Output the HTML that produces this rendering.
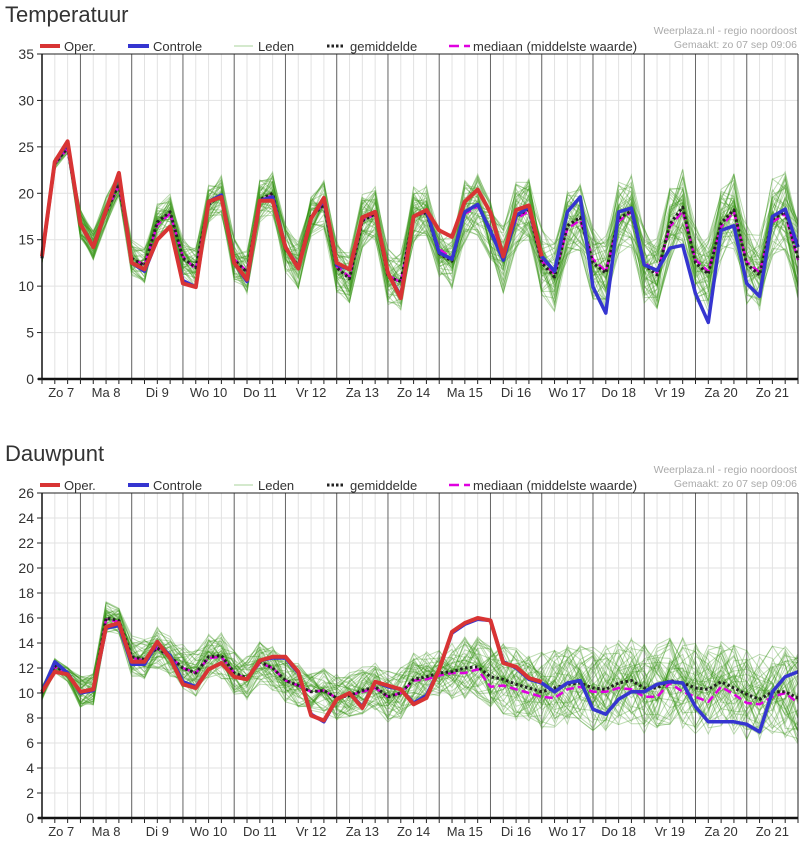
<!DOCTYPE html>
<html><head><meta charset="utf-8"><style>
body{margin:0;background:#fff;}
svg{display:block;font-family:"Liberation Sans",sans-serif;}
</style></head><body>
<svg id="root" width="808" height="848" viewBox="0 0 808 848" xmlns="http://www.w3.org/2000/svg"></svg>
<script>
const dayLabels = ["Zo 7","Ma 8","Di 9","Wo 10","Do 11","Vr 12","Za 13","Zo 14","Ma 15","Di 16","Wo 17","Do 18","Vr 19","Za 20","Zo 21"];
const tempTicks = [0,5,10,15,20,25,30,35];
const dewTicks = [0,2,4,6,8,10,12,14,16,18,20,22,24,26];

const tempOper = [13.2,23.4,25.6,16.7,14.2,18.2,22.2,12.5,11.8,15.0,16.4,10.3,9.9,19.1,19.6,12.5,10.7,19.2,19.2,14.2,11.9,17.3,19.5,12.5,11.8,17.4,18.0,11.4,8.7,17.5,18.2,16.0,15.3,19.1,20.4,17.9,13.2,18.2,18.7,13.2];
const tempCtrl = [13.2,23.4,25.4,16.7,14.2,18.2,22.0,12.5,11.6,15.0,16.4,10.6,9.9,19.1,19.8,12.5,10.5,19.2,19.6,14.2,11.9,17.3,19.3,12.3,11.8,17.4,18.0,11.4,8.9,17.5,18.2,13.6,12.9,18.0,18.8,15.9,12.8,17.6,18.5,13.2,11.6,18.0,19.6,9.9,7.1,18.0,18.4,12.3,11.7,14.1,14.4,9.2,6.1,16.0,16.5,10.3,8.9,17.5,18.3,14.2];
const tempMean = [13.0,23.2,24.9,16.7,14.4,18.0,21.0,13.0,12.2,16.9,18.0,13.0,12.0,18.8,19.8,12.8,11.5,19.3,20.0,14.0,12.2,17.5,18.8,12.0,10.8,17.0,17.8,11.0,10.5,17.6,17.9,13.5,12.7,18.0,18.8,16.0,12.8,17.5,18.3,12.5,11.0,16.5,17.4,12.5,11.4,17.3,18.1,12.3,11.2,16.7,18.5,12.5,11.3,16.8,18.2,12.4,11.2,17.2,18.0,13.0];
const tempMedian = [13.0,23.2,24.8,16.6,14.4,18.0,20.8,13.0,12.3,16.6,17.8,13.2,11.8,18.8,19.8,12.9,11.6,19.2,19.8,14.1,12.3,17.4,18.9,12.1,11.0,17.1,17.7,11.2,10.4,17.5,18.0,14.0,13.0,17.8,18.6,16.2,13.0,17.2,18.1,12.7,11.3,16.2,17.1,12.9,11.6,17.0,18.0,12.6,11.4,16.4,18.1,12.8,11.6,16.4,18.0,12.6,11.5,16.9,17.8,12.8];
const tempSpread = [0.6,1.6,2.0,2.2,2.4,2.6,2.9,3.1,3.4,3.7,3.8,4.0,4.2,4.2,4.4];

const dewOper = [10.1,11.7,11.5,10.1,10.3,15.3,15.6,12.5,12.5,14.1,12.8,10.7,10.4,11.9,12.4,11.3,11.1,12.6,12.9,12.9,11.7,8.2,7.8,9.5,10.0,8.8,10.9,10.6,10.3,9.1,9.6,11.9,14.9,15.6,16.0,15.8,12.4,12.1,11.2,10.9];
const dewCtrl = [10.1,12.5,11.6,10.0,10.2,15.2,15.4,12.3,12.3,14.0,13.0,10.9,10.5,11.9,12.4,11.3,11.1,12.6,12.8,12.8,11.6,8.3,7.7,9.5,10.0,8.9,10.9,10.5,10.3,9.2,9.8,11.9,14.8,15.5,15.9,15.8,12.5,12.0,11.1,10.8,10.1,10.8,11.0,8.7,8.3,9.5,10.1,10.1,10.7,10.9,10.8,8.9,7.7,7.7,7.7,7.5,6.9,10.1,11.3,11.7];
const dewMean = [10.0,12.2,11.5,10.1,10.3,16.0,15.8,12.9,12.7,13.6,12.9,12.0,11.6,12.9,13.0,11.6,11.2,12.5,12.0,11.0,10.6,10.1,10.2,9.6,9.8,10.2,10.5,9.7,10.0,11.1,11.3,11.6,11.7,12.0,12.1,11.3,11.1,10.7,10.4,10.1,10.4,10.7,10.8,10.4,10.3,10.8,11.0,10.4,10.4,11.0,10.8,10.4,10.3,10.9,10.4,9.9,9.5,10.1,10.1,9.6];
const dewMedian = [10.0,12.1,11.5,10.1,10.3,15.9,15.7,12.8,12.6,13.6,12.9,12.0,11.6,12.8,12.9,11.6,11.1,12.4,12.0,11.0,10.6,10.1,10.2,9.6,9.8,10.1,10.4,9.7,10.0,11.0,11.1,11.4,11.6,11.6,11.9,10.5,10.6,10.3,10.0,9.7,9.6,10.3,10.5,10.1,10.1,10.4,10.3,9.7,9.7,10.8,10.1,9.7,9.3,10.5,9.9,9.2,9.1,9.7,10.0,9.2];
const dewSpread = [0.6,1.3,1.7,1.9,1.8,1.8,1.9,2.1,2.5,2.9,3.2,3.5,3.7,3.7,3.7];

const memberCount = 50;
const NS = "http://www.w3.org/2000/svg";
const root = document.getElementById('root');
function mk(tag, attrs, parent){
  const e = document.createElementNS(NS, tag);
  for (const k in attrs) e.setAttribute(k, attrs[k]);
  (parent||root).appendChild(e);
  return e;
}

function drawChart(cfg){
  const g = mk('g', {});
  
  
  const x0 = 42, x1 = 798, y0 = cfg.top, y1 = cfg.top + 325;
  const n = 60, step = (x1 - x0) / (n - 1);
  const xs = i => x0 + i * step;
  const ymax = cfg.ticks[cfg.ticks.length - 1];
  const ys = v => y1 - (v / ymax) * (y1 - y0);

  const title = mk('text', {x:5, y:cfg.top - 32, 'font-size':22, fill:'#333'}, g);
  title.textContent = cfg.title;
  
  

  const grid = mk('g', {}, g);
  
  
  for (let i = 0; i < n; i++) {
    mk('line', {x1:xs(i), x2:xs(i), y1:y0, y2:y1, stroke:'#e2e2e2', 'stroke-width':1}, grid);
  }
  cfg.ticks.forEach(t => {
    mk('line', {x1:x0, x2:x1, y1:ys(t), y2:ys(t), stroke:'#e2e2e2', 'stroke-width':1}, grid);
  });
  for (let i = 3; i < n; i += 4) {
    mk('line', {x1:xs(i), x2:xs(i), y1:y0, y2:y1, stroke:'#666', 'stroke-width':1}, grid);
  }

  const mg = mk('g', {}, g);
  
  
  for (let k = 0; k < memberCount; k++) {
    let d = '';
    for (let i = 0; i < n; i++) {
      const sp = cfg.spread[Math.min(14, Math.floor((i + 1) / 4))];
      const z = 0.55 * Math.sin(k * 2.31 + i * (0.7 + (k % 7) * 0.23)) + 0.45 * Math.cos(k * 1.13 + i * 0.37 + (k % 3));
      const v = cfg.mean[i] + sp * z * cfg.memberScale;
      d += (i ? 'L' : 'M') + xs(i).toFixed(1) + ',' + ys(v).toFixed(1);
    }
    const p = mk('path', {d:d, fill:'none', stroke:'rgba(55,150,20,0.33)', 'stroke-width':1}, mg);
    
    
  }

  function line(arr, attrs, nm){
    let d = '';
    arr.forEach((v, i) => { d += (i ? 'L' : 'M') + xs(i).toFixed(1) + ',' + ys(v).toFixed(1); });
    const p = mk('path', Object.assign({d:d, fill:'none', 'stroke-linejoin':'round'}, attrs), g);
    
    
  }
  line(cfg.median, {stroke:'#e000e0', 'stroke-width':2.5, 'stroke-dasharray':'8,4'}, cfg.name + '-median-line');
  line(cfg.mean, {stroke:'#222', 'stroke-width':3, 'stroke-dasharray':'2.5,2.5'}, cfg.name + '-mean-line');
  line(cfg.ctrl, {stroke:'#3535d0', 'stroke-width':3.5}, cfg.name + '-control-line');
  line(cfg.oper, {stroke:'#d83434', 'stroke-width':4}, cfg.name + '-operational-line');

  mk('line', {x1:x0, x2:x1, y1:y0, y2:y0, stroke:'#222', 'stroke-width':1}, g);
  mk('line', {x1:x1, x2:x1, y1:y0, y2:y1, stroke:'#222', 'stroke-width':1}, g);
  const yax = mk('line', {x1:x0, x2:x0, y1:y0, y2:y1, stroke:'#111', 'stroke-width':1.5}, g);
  
  
  const xax = mk('line', {x1:x0 - 4, x2:x1, y1:y1, y2:y1, stroke:'#111', 'stroke-width':2.5}, g);
  
  
  for (let i = 0; i < n; i++) mk('line', {x1:xs(i), x2:xs(i), y1:y1, y2:y1 + 5, stroke:'#222', 'stroke-width':1}, g);

  cfg.ticks.forEach(t => {
    mk('line', {x1:x0 - 5, x2:x0, y1:ys(t), y2:ys(t), stroke:'#222', 'stroke-width':1}, g);
    const tx = mk('text', {x:34, y:ys(t) + 5, 'font-size':14, fill:'#333', 'text-anchor':'end'}, g);
    tx.textContent = t;
    
    
  });
  dayLabels.forEach((lab, d) => {
    const a = d === 0 ? x0 : xs(4 * d - 1), b = xs(Math.min(59, 4 * d + 3));
    const tx = mk('text', {x:(a + b) / 2, y:y1 + 18, 'font-size':13, fill:'#333', 'text-anchor':'middle'}, g);
    tx.textContent = lab;
    
    
  });

  const lg = mk('g', {}, g);
  
  
  const ly = y0 - 8;
  const items = [
    {x:40, w:20, st:{stroke:'#d83434','stroke-width':4}, t:'Oper.', tx:64},
    {x:128, w:21, st:{stroke:'#3535d0','stroke-width':4}, t:'Controle', tx:153},
    {x:234, w:19, st:{stroke:'rgba(60,155,25,0.35)','stroke-width':1.2}, t:'Leden', tx:258},
    {x:327, w:16, st:{stroke:'#222','stroke-width':3,'stroke-dasharray':'2.5,2'}, t:'gemiddelde', tx:350},
    {x:449, w:21, st:{stroke:'#e000e0','stroke-width':2.5,'stroke-dasharray':'10,5'}, t:'mediaan (middelste waarde)', tx:473}
  ];
  items.forEach(it => {
    const e = mk('g', {}, lg);
    
    
    mk('line', Object.assign({x1:it.x, x2:it.x + it.w, y1:ly, y2:ly}, it.st), e);
    const t = mk('text', {x:it.tx, y:ly + 5, 'font-size':13, fill:'#333'}, e);
    t.textContent = it.t;
  });
  const s1 = mk('text', {x:797, y:y0 - 20, 'font-size':10.5, fill:'#aaa', 'text-anchor':'end'}, g);
  s1.textContent = 'Weerplaza.nl - regio noordoost';
  
  
  const s2 = mk('text', {x:797, y:y0 - 6, 'font-size':10.5, fill:'#aaa', 'text-anchor':'end'}, g);
  s2.textContent = 'Gemaakt: zo 07 sep 09:06';
  
  
}

drawChart({name:'temperature', title:'Temperatuur', top:54, ticks:tempTicks, oper:tempOper, ctrl:tempCtrl, mean:tempMean, median:tempMedian, spread:tempSpread, memberScale:1.0});
drawChart({name:'dewpoint', title:'Dauwpunt', top:493, ticks:dewTicks, oper:dewOper, ctrl:dewCtrl, mean:dewMean, median:dewMedian, spread:dewSpread, memberScale:1.0});
</script>
</body></html>
